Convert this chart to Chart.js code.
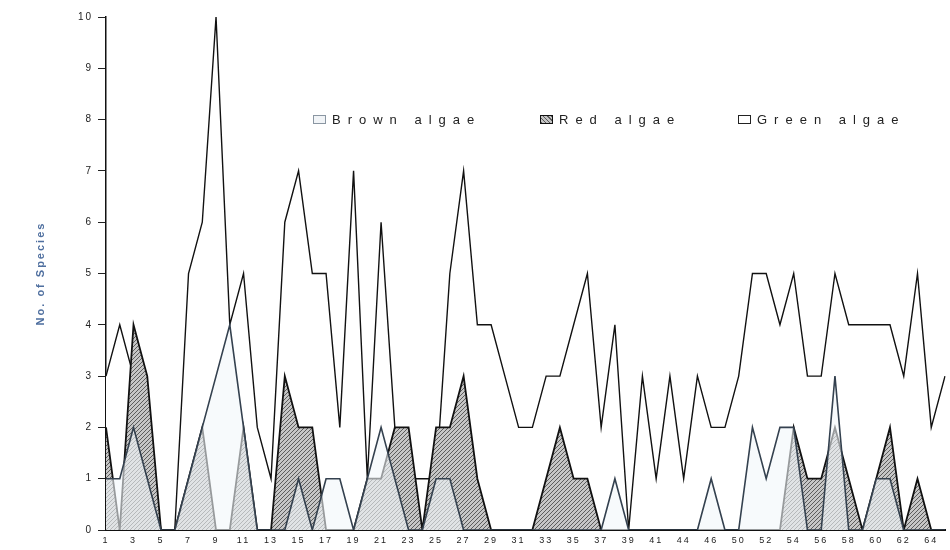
<!DOCTYPE html>
<html>
<head>
<meta charset="utf-8">
<script src="https://cdn.jsdelivr.net/npm/chart.js@4.4.1/dist/chart.umd.min.js"></script>
<style>
  html, body { margin: 0; padding: 0; background: #fff; }
  #wrap { position: relative; width: 950px; height: 550px; }
  #chart { display: block; }
  .item {
    position: absolute;
    top: 112px;
    display: flex;
    align-items: center;
    white-space: nowrap;
    font: 13px 'Liberation Sans', Arial, sans-serif;
    letter-spacing: 7px;
    color: #222;
  }
  .box { width: 13px; height: 9px; box-sizing: border-box; border: 1px solid #222; margin-right: 6px; }
  .box--brown { border-color: #8a96a2; background: #f1f4f7; }
  .box--red { border: 1.5px solid #111; background: repeating-linear-gradient(45deg, #5a5a5a 0 1px, #c4c4c4 1px 3px); }
  .box--green { background: #fff; }
</style>
</head>
<body>
<div id="wrap">
  <canvas id="chart" width="950" height="550"></canvas>
  <div class="item" style="left:313px"><span class="box box--brown"></span>Brown algae</div>
  <div class="item" style="left:540px"><span class="box box--red"></span>Red algae</div>
  <div class="item" style="left:738px"><span class="box box--green"></span>Green algae</div>
</div>
<script>
// station numbers along the x axis (every other one is printed)
const stations = [
  '1', '2', '3', '4', '5', '6', '7', '8', '9', '10',
  '11', '12', '13', '14', '15', '16', '17', '18', '19', '20',
  '21', '22', '23', '24', '25', '26', '27', '28', '29', '30',
  '31', '32', '33', '34', '35', '36', '37', '38', '39', '40',
  '41', '42', '44', '45', '46', '48', '50', '51', '52', '53',
  '54', '55', '56', '57', '58', '59', '60', '61', '62', '63',
  '64', '65',
];

const brownAlgae = [
  1, 1, 2, 1, 0, 0, 1, 2, 3, 4,
  2, 0, 0, 0, 1, 0, 1, 1, 0, 1,
  2, 1, 0, 0, 1, 1, 0, 0, 0, 0,
  0, 0, 0, 0, 0, 0, 0, 1, 0, 0,
  0, 0, 0, 0, 1, 0, 0, 2, 1, 2,
  2, 0, 0, 3, 0, 0, 1, 1, 0, 0,
  0, 0,
];

const redAlgae = [
  2, 0, 4, 3, 0, 0, 1, 2, 0, 0,
  2, 0, 0, 3, 2, 2, 0, 0, 0, 1,
  1, 2, 2, 0, 2, 2, 3, 1, 0, 0,
  0, 0, 1, 2, 1, 1, 0, 0, 0, 0,
  0, 0, 0, 0, 0, 0, 0, 0, 0, 0,
  2, 1, 1, 2, 1, 0, 1, 2, 0, 1,
  0, 0,
];

const greenAlgae = [
  3, 4, 3, 2, 0, 0, 5, 6, 10, 4,
  5, 2, 1, 6, 7, 5, 5, 2, 7, 1,
  6, 2, 1, 1, 1, 5, 7, 4, 4, 3,
  2, 2, 3, 3, 4, 5, 2, 4, 0, 3,
  1, 3, 1, 3, 2, 2, 3, 5, 5, 4,
  5, 3, 3, 5, 4, 4, 4, 4, 3, 5,
  2, 3,
];

const FONT = "'Liberation Sans', Arial, sans-serif";

function makeHatch() {
  const tile = document.createElement('canvas');
  tile.width = 4;
  tile.height = 4;
  const g = tile.getContext('2d');
  g.fillStyle = '#c6c6c6';
  g.fillRect(0, 0, 4, 4);
  g.strokeStyle = '#5c5c5c';
  g.lineWidth = 1;
  g.beginPath();
  g.moveTo(0, 4); g.lineTo(4, 0);
  g.moveTo(-1, 1); g.lineTo(1, -1);
  g.moveTo(3, 5); g.lineTo(5, 3);
  g.stroke();
  return g.createPattern(tile, 'repeat');
}

// the printed axis numbers are widely spaced ("1 0", "1 3" ...)
const spacedText = {
  id: 'spacedText',
  beforeUpdate(chart) { chart.ctx.letterSpacing = '2px'; },
  beforeDraw(chart) { chart.ctx.letterSpacing = '2px'; },
};

function renderChart() {
  const canvas = document.getElementById('chart');

  new Chart(canvas, {
    type: 'line',
    data: {
      labels: stations,
      datasets: [
        {
          label: 'Brown algae',
          data: brownAlgae,
          borderColor: '#34414f',
          borderWidth: 1.6,
          backgroundColor: 'rgba(242, 246, 250, 0.6)',
          fill: 'origin',
        },
        {
          label: 'Red algae',
          data: redAlgae,
          borderColor: '#111',
          borderWidth: 1.8,
          backgroundColor: makeHatch(),
          fill: 'origin',
        },
        {
          label: 'Green algae',
          data: greenAlgae,
          borderColor: '#111',
          borderWidth: 1.4,
          backgroundColor: '#fff',
          fill: 'origin',
        },
      ],
    },
    options: {
      responsive: false,
      animation: false,
      layout: { padding: { left: 34, right: 4, top: 17, bottom: 0 } },
      elements: { point: { radius: 0 }, line: { tension: 0 } },
      plugins: {
        legend: { display: false },
        tooltip: { enabled: false },
      },
      scales: {
        x: {
          type: 'category',
          offset: false,
          grid: { display: false, drawTicks: false },
          border: { display: true, color: '#111', width: 2 },
          ticks: {
            autoSkip: false,
            maxRotation: 0,
            padding: 5,
            color: '#222',
            font: { family: FONT, size: 9 },
            callback(value, index) {
              return index % 2 === 0 ? this.getLabelForValue(value) : '';
            },
          },
          afterFit(scale) { scale.height = 20; },
        },
        y: {
          min: 0,
          max: 10,
          ticks: { stepSize: 1, padding: 5, color: '#222', font: { family: FONT, size: 10 } },
          grid: { display: true, drawOnChartArea: false, drawTicks: true, tickLength: 8, color: '#222' },
          border: { display: true, color: '#111', width: 1.5 },
          title: {
            display: true,
            text: 'No. of Species',
            color: '#4f6f9f',
            font: { family: FONT, size: 11, weight: 'bold' },
            padding: { top: 0, bottom: 0 },
          },
          afterFit(scale) { scale.width = 72; },
        },
      },
    },
    plugins: [spacedText],
  });
}

document.addEventListener('DOMContentLoaded', renderChart);
</script>
</body>
</html>
